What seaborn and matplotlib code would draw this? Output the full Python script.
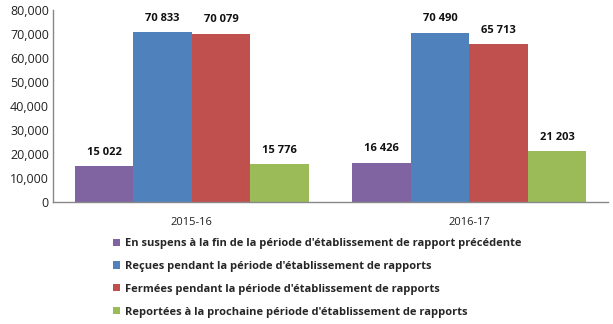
import matplotlib
matplotlib.use("Agg")
import matplotlib.pyplot as plt
import seaborn as sns
import pandas as pd
from matplotlib.ticker import FuncFormatter
from matplotlib.patches import Patch

years = ["2015-16", "2016-17"]
series = [
    "En suspens à la fin de la période d'établissement de rapport précédente",
    "Reçues pendant la période d'établissement de rapports",
    "Fermées pendant la période d'établissement de rapports",
    "Reportées à la prochaine période d'établissement de rapports",
]
en_suspens = [15022, 16426]
recues = [70833, 70490]
fermees = [70079, 65713]
reportees = [15776, 21203]
colors = ["#8064A2", "#4F81BD", "#C0504D", "#9BBB59"]

rows = []
for name, vals in zip(series, [en_suspens, recues, fermees, reportees]):
    for y, v in zip(years, vals):
        rows.append({"year": y, "series": name, "value": v})
df = pd.DataFrame(rows)

sns.set_theme(style="white")
plt.rcParams["font.family"] = ["Open Sans", "DejaVu Sans"]

fig = plt.figure(figsize=(6.13, 3.24), dpi=100)
ax = fig.add_axes([53/613, 1-202/324, 555/613, 192/324])
sns.barplot(data=df, x="year", y="value", hue="series", hue_order=series,
            palette=colors, width=0.843, gap=0, saturation=1, ax=ax, legend=False,
            edgecolor="none", linewidth=0)

ax.set_ylim(0, 80000)
ax.set_yticks(range(0, 80001, 10000))
ax.yaxis.set_major_formatter(FuncFormatter(lambda v, p: f"{int(v):,}"))
ax.set_xlabel("")
ax.set_ylabel("")
ax.tick_params(axis="both", labelsize=8, colors="#222222", length=0)
ax.tick_params(axis="y", labelsize=9, pad=3)
ax.tick_params(axis="x", pad=11)
for s in ["top", "right"]:
    ax.spines[s].set_visible(False)
for s in ["left", "bottom"]:
    ax.spines[s].set_color("#888888")
    ax.spines[s].set_linewidth(1)

for cont in ax.containers:
    labels = [f"{int(v):,}".replace(",", " ") for v in cont.datavalues]
    ax.bar_label(cont, labels=labels, padding=6, fontsize=8, fontweight="bold", color="#111111")

handles = [Patch(facecolor=c, edgecolor="none") for c in colors]
fig.legend(handles, series, loc="upper left", bbox_to_anchor=(113/613, 1-238/324),
           frameon=False, handlelength=0.6, handleheight=0.6,
           handletextpad=0.5, labelspacing=1.07, borderpad=0, borderaxespad=0,
           prop={"weight": "bold", "size": 8})

fig.savefig("out.png", dpi=100)
